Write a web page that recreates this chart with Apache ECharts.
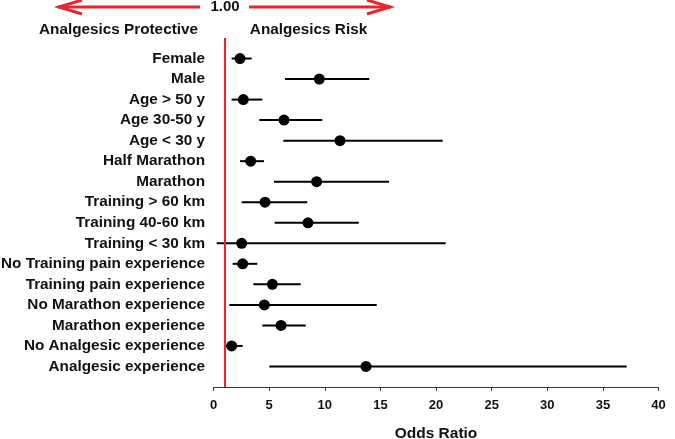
<!DOCTYPE html>
<html><head><meta charset="utf-8">
<script src="https://cdn.jsdelivr.net/npm/echarts@6/dist/echarts.min.js"></script>
<style>html,body{margin:0;padding:0;background:#fff}#c{width:675px;height:439px}</style>
</head><body><div id="c"></div>
<script>
var categories = ['Female','Male','Age > 50 y','Age 30-50 y','Age < 30 y','Half Marathon','Marathon','Training > 60 km','Training 40-60 km','Training < 30 km','No Training pain experience','Training pain experience','No Marathon experience','Marathon experience','No Analgesic experience','Analgesic experience'];
var oddsRatio = [2.38, 9.51, 2.68, 6.34, 11.37, 3.34, 9.27, 4.63, 8.49, 2.53, 2.62, 5.29, 4.57, 6.07, 1.63, 13.71];
var ciLow  = [1.63, 6.43, 1.63, 4.12, 6.28, 2.38, 5.44, 2.53, 5.50, 0.29, 1.72, 3.58, 1.42, 4.39, 1.03, 5.02];
var ciHigh = [3.43, 14.0, 4.39, 9.78, 20.6, 4.54, 15.78, 8.43, 13.05, 20.87, 3.94, 7.84, 14.67, 8.29, 2.62, 37.14];
var xTicks = {min: 0, max: 40, interval: 5};
var refValue = 1.00;

var RED = '#e8262b';
var FONT = "'Liberation Sans', Arial, sans-serif";
var chart = echarts.init(document.getElementById('c'));

var ciData = categories.map(function(c, i){ return [ciLow[i], ciHigh[i], i]; });
var ptData = categories.map(function(c, i){ return [oddsRatio[i], i]; });

chart.setOption({
  animation: false,
  grid: {left: 213.5, right: 16.5, top: 38, bottom: 52, containLabel: false, outerBoundsMode: 'none'},
  xAxis: {
    type: 'value', min: xTicks.min, max: xTicks.max, interval: xTicks.interval,
    name: 'Odds Ratio', nameLocation: 'middle', nameGap: 39,
    nameTextStyle: {fontFamily: FONT, fontWeight: 'bold', fontSize: 15.5, color: '#111'},
    axisLine: {onZero: false, lineStyle: {color: '#333', width: 1}},
    axisTick: {show: true, length: 4, lineStyle: {color: '#333'}},
    axisLabel: {fontFamily: FONT, fontWeight: 'bold', fontSize: 13, color: '#111', margin: 12},
    splitLine: {show: false}
  },
  yAxis: {
    type: 'value', min: -1, max: 16, interval: 1, inverse: true,
    axisLine: {show: false}, axisTick: {show: false}, splitLine: {show: false},
    axisLabel: {
      fontFamily: FONT, fontWeight: 'bold', fontSize: 15.3, color: '#111', margin: 8.5,
      formatter: function(v){ return (v >= 0 && v < categories.length) ? categories[v] : ''; }
    }
  },
  series: [
    {
      type: 'custom',
      data: ciData,
      encode: {x: [0, 1], y: 2},
      renderItem: function(params, api){
        var a = api.coord([api.value(0), api.value(2)]);
        var b = api.coord([api.value(1), api.value(2)]);
        return {type: 'line', shape: {x1: a[0], y1: a[1], x2: b[0], y2: b[1]},
                style: {stroke: '#000', lineWidth: 2}};
      },
      z: 3,
      markLine: {
        silent: true, symbol: 'none', label: {show: false},
        lineStyle: {color: RED, width: 2, type: 'solid'},
        data: [{xAxis: refValue}]
      }
    },
    {
      type: 'scatter', data: ptData, symbol: 'circle', symbolSize: 11,
      itemStyle: {color: '#000', opacity: 1}, z: 4
    }
  ],
  graphic: [
    {type: 'polyline', shape: {points: [[58,7],[200,7]]}, style: {stroke: RED, lineWidth: 3, fill: null}},
    {type: 'polyline', shape: {points: [[82,0],[59,7],[82,14]]}, style: {stroke: RED, lineWidth: 3, fill: null}},
    {type: 'polyline', shape: {points: [[249,7],[391,7]]}, style: {stroke: RED, lineWidth: 3, fill: null}},
    {type: 'polyline', shape: {points: [[367,0],[390,7],[367,14]]}, style: {stroke: RED, lineWidth: 3, fill: null}},
    {type: 'text', x: 225, y: 7, style: {text: refValue.toFixed(2), font: "bold 15px 'Liberation Sans', Arial, sans-serif", fill: '#111', align: 'center', verticalAlign: 'middle'}},
    {type: 'text', x: 118.5, y: 30, style: {text: 'Analgesics Protective', font: "bold 15.3px 'Liberation Sans', Arial, sans-serif", fill: '#111', align: 'center', verticalAlign: 'middle'}},
    {type: 'text', x: 308.5, y: 30, style: {text: 'Analgesics Risk', font: "bold 15.3px 'Liberation Sans', Arial, sans-serif", fill: '#111', align: 'center', verticalAlign: 'middle'}}
  ]
});
</script></body></html>
